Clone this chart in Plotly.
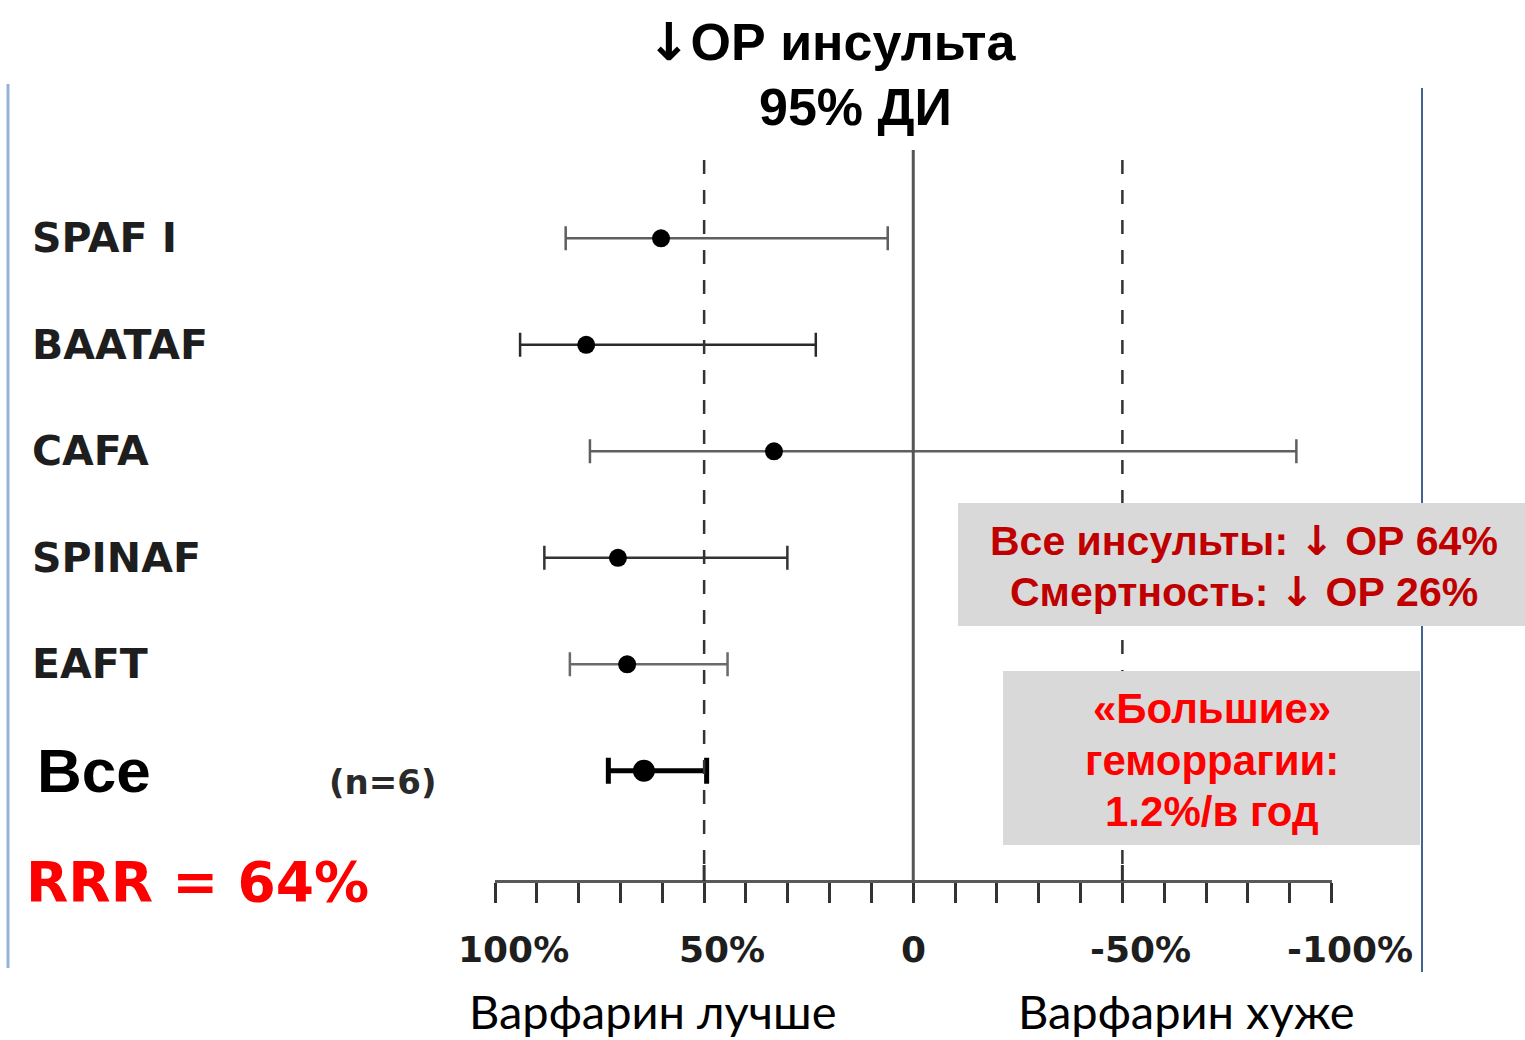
import plotly.graph_objects as go

# ---------------- data ----------------
studies = ["SPAF I", "BAATAF", "CAFA", "SPINAF", "EAFT", "Все"]
rrr = [60.3, 78.2, 33.3, 70.6, 68.4, 64.4]          # point estimate, % risk reduction
ci_low = [6.1, 23.3, -91.6, 30.1, 44.4, 49.4]       # CI bound toward "worse"
ci_high = [83.1, 94.0, 77.3, 88.2, 82.1, 72.9]      # CI bound toward "better"
tick_values = [100, 90, 80, 70, 60, 50, 40, 30, 20, 10, 0,
               -10, -20, -30, -40, -50, -60, -70, -80, -90, -100]
label_values = [100, 50, 0, -50, -100]
label_texts = ["100%", "50%", "0", "-50%", "-100%"]
ref_dashed = [50, -50]
ref_solid = [0]

W, H = 1525, 1040
def py(p):  # pixel row -> paper y
    return 1 - p / H
def px(p):
    return p / W

ARROW = '<span style="font-family:DejaVu Sans">↓</span>'

fig = go.Figure()

row_style = {
    "SPAF I": dict(color="#5f5f5f", thick=2.5, cap=12, size=18),
    "BAATAF": dict(color="#2a2a2a", thick=2.5, cap=12, size=18),
    "CAFA": dict(color="#5f5f5f", thick=2.5, cap=12, size=18),
    "SPINAF": dict(color="#333333", thick=2.5, cap=12, size=18),
    "EAFT": dict(color="#6a6a6a", thick=2.5, cap=12, size=18),
    "Все": dict(color="#000000", thick=5, cap=13, size=22),
}

for i, name in enumerate(studies):
    st = row_style[name]
    fig.add_trace(go.Scatter(
        x=[rrr[i]], y=[i], mode="markers",
        marker=dict(color="black", size=st["size"]),
        error_x=dict(type="data", symmetric=False,
                     array=[ci_high[i] - rrr[i]],
                     arrayminus=[rrr[i] - ci_low[i]],
                     color=st["color"], thickness=st["thick"], width=st["cap"]),
        showlegend=False, hoverinfo="skip"))

shapes = []
axis_y = 881
for v in ref_dashed:
    shapes.append(dict(type="line", xref="x", yref="paper", x0=v, x1=v,
                       y0=py(160), y1=py(axis_y),
                       line=dict(color="#333333", width=2.5, dash="14px,16px")))
    shapes.append(dict(type="line", xref="x", yref="paper", x0=v, x1=v,
                       y0=py(865), y1=py(axis_y),
                       line=dict(color="#333333", width=3)))
for v in ref_solid:
    shapes.append(dict(type="line", xref="x", yref="paper", x0=v, x1=v,
                       y0=py(150), y1=py(axis_y),
                       line=dict(color="#555555", width=3)))
# side frame lines
shapes.append(dict(type="line", xref="paper", yref="paper", x0=px(8), x1=px(8),
                   y0=py(84), y1=py(968), line=dict(color="#95b3d7", width=3)))
shapes.append(dict(type="line", xref="paper", yref="paper", x0=px(1422), x1=px(1422),
                   y0=py(88), y1=py(972), line=dict(color="#41638f", width=2)))
# grey boxes
shapes.append(dict(type="rect", xref="paper", yref="paper", x0=px(958), x1=px(1525),
                   y0=py(626), y1=py(503), fillcolor="#d9d9d9", line=dict(width=0)))
shapes.append(dict(type="rect", xref="paper", yref="paper", x0=px(1003), x1=px(1420),
                   y0=py(845), y1=py(671), fillcolor="#d9d9d9", line=dict(width=0)))

ann = []
ARIAL = "Liberation Sans, Arial, sans-serif"
DEJA = "DejaVu Sans, sans-serif"
# title
ann.append(dict(text="<b>" + ARROW + "ОР инсульта</b>", x=px(832), y=py(42), xref="paper",
                yref="paper", showarrow=False, xanchor="center", yanchor="middle",
                font=dict(family=ARIAL, size=52, color="black")))
ann.append(dict(text="<b>95% ДИ</b>", x=px(855), y=py(107), xref="paper", yref="paper",
                showarrow=False, xanchor="center", yanchor="middle",
                font=dict(family=ARIAL, size=52, color="black")))
# study labels
for i, name in enumerate(studies[:-1]):
    ann.append(dict(text="<b>" + name + "</b>", x=px(30), y=i, xref="paper", yref="y",
                    showarrow=False, xanchor="left", yanchor="middle",
                    font=dict(family=DEJA, size=41, color="#1e1e1e")))
ann.append(dict(text="<b>" + studies[-1] + "</b>", x=px(35), y=len(studies) - 1,
                xref="paper", yref="y", showarrow=False, xanchor="left", yanchor="middle",
                font=dict(family=ARIAL, size=62, color="black")))
ann.append(dict(text="<b>(n=6)</b>", x=px(327), y=py(782), xref="paper", yref="paper",
                showarrow=False, xanchor="left", yanchor="middle",
                font=dict(family=DEJA, size=34, color="#2a2a2a")))
ann.append(dict(text="<b>RRR = 64%</b>", x=px(24), y=py(882), xref="paper", yref="paper",
                showarrow=False, xanchor="left", yanchor="middle",
                font=dict(family=DEJA, size=55, color="#ff0000")))
# tick labels (numeric part centred on tick, % hanging right)
for v, t in zip(label_values, label_texts):
    ann.append(dict(text="<b>" + t + "</b>", x=v, y=py(949), xref="x", yref="paper",
                    showarrow=False, xanchor="center", yanchor="middle",
                    xshift=18 if t.endswith("%") else 0,
                    font=dict(family=DEJA, size=36, color="#1e1e1e")))
# bottom captions
for txt, cx in [("Варфарин лучше", 652), ("Варфарин хуже", 1186)]:
    ann.append(dict(text=txt, x=px(cx), y=0, xref="paper", yref="paper",
                    showarrow=False, xanchor="center", yanchor="bottom", borderpad=0,
                    font=dict(family="Lato, sans-serif", size=47, color="black")))
# boxes text
ann.append(dict(text="<b>Все инсульты: " + ARROW + " ОР 64%</b>", x=px(1244), y=py(541),
                xref="paper", yref="paper", showarrow=False, xanchor="center", yanchor="middle",
                font=dict(family=ARIAL, size=41, color="#c00000")))
ann.append(dict(text="<b>Смертность: " + ARROW + " ОР 26%</b>", x=px(1244), y=py(592),
                xref="paper", yref="paper", showarrow=False, xanchor="center", yanchor="middle",
                font=dict(family=ARIAL, size=41, color="#c00000")))
for txt, yy in [("«Большие»", 708), ("геморрагии:", 760), ("1.2%/в год", 811)]:
    ann.append(dict(text="<b>" + txt + "</b>", x=px(1212), y=py(yy),
                    xref="paper", yref="paper", showarrow=False, xanchor="center",
                    yanchor="middle", font=dict(family=ARIAL, size=42, color="#ff0000")))

row0, step = 238.3, 106.5
fig.update_layout(
    width=W, height=H, margin=dict(l=0, r=0, t=0, b=0),
    paper_bgcolor="white", plot_bgcolor="white",
    xaxis=dict(domain=[px(495), px(1331.5)], range=[100, -100], anchor="free",
               position=py(axis_y), showline=True, linecolor="#595959", linewidth=3,
               ticks="outside", tickvals=tick_values, ticklen=20, tickwidth=3,
               tickcolor="#333333", showticklabels=False, showgrid=False, zeroline=False),
    yaxis=dict(domain=[0, 1], range=[(H - row0) / step, -row0 / step], visible=False),
    shapes=shapes, annotations=ann,
)

fig.write_html("out.html")
